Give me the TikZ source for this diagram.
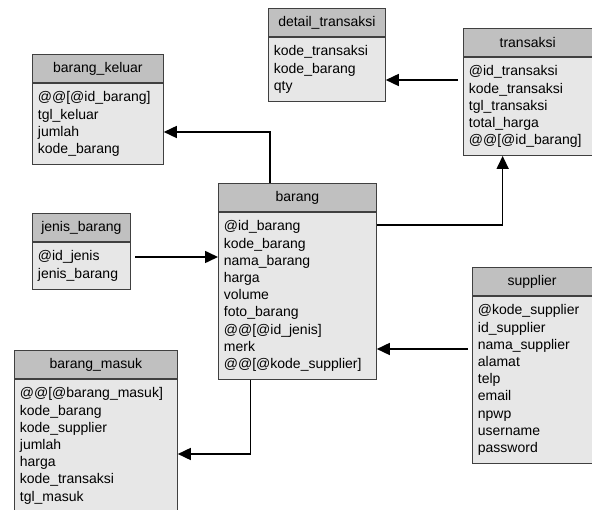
\documentclass[tikz,border=0pt]{standalone}
\usepackage{fontspec}
\setmainfont{Liberation Sans}
\usetikzlibrary{positioning,arrows.meta}
\definecolor{hdrgray}{RGB}{192,192,192}
\definecolor{bodygray}{RGB}{231,231,231}
\definecolor{linegray}{RGB}{64,64,64}

\begin{document}
\begin{tikzpicture}[x=1pt, y=-1pt, >={Triangle[length=13pt,width=12pt]}]
\tikzset{
  tblhead/.style={draw=linegray, fill=hdrgray, line width=0.8pt, inner sep=0pt,
    minimum height=28.5pt, anchor=north west,
    font=\fontsize{14}{17.2}\selectfont},
  tblbody/.style={draw=linegray, fill=bodygray, line width=0.8pt, align=left,
    inner xsep=5.5pt, inner ysep=8pt, anchor=north west,
    font=\fontsize{14}{17.2}\selectfont},
  link/.style={->, line width=1.6pt}
}
\useasboundingbox (0,0) rectangle (592,510);

% -------- tabel barang_keluar ----------
\node (kel-h) [tblhead, minimum width=131pt] at (32,54) {barang\_keluar};
\node (kel-b) [tblbody, text width=120pt] at (kel-h.south west)
  {@@[@id\_barang]\\ tgl\_keluar\\ jumlah\\ kode\_barang};

% -------- tabel detail_transaksi ----------
\node (det-h) [tblhead, minimum width=117pt] at (268,8) {detail\_transaksi};
\node (det-b) [tblbody, text width=106pt] at (det-h.south west)
  {kode\_transaksi\\ kode\_barang\\ qty};

% -------- tabel transaksi ----------
\node (trans-h) [tblhead, minimum width=128.5pt] at (463,28) {transaksi};
\node (trans-b) [tblbody, text width=117.5pt] at (trans-h.south west)
  {@id\_transaksi\\ kode\_transaksi\\ tgl\_transaksi\\ total\_harga\\ @@[@id\_barang]};

% -------- tabel barang ----------
\node (barang-h) [tblhead, minimum width=158pt] at (218,183) {barang};
\node (barang-b) [tblbody, text width=147pt] at (barang-h.south west)
  {@id\_barang\\ kode\_barang\\ nama\_barang\\ harga\\ volume\\ foto\_barang\\
   @@[@id\_jenis]\\ merk\\ @@[@kode\_supplier]};

% -------- tabel jenis_barang ----------
\node (jenis-h) [tblhead, minimum width=98pt] at (32,213) {jenis\_barang};
\node (jenis-b) [tblbody, text width=87pt] at (jenis-h.south west)
  {@id\_jenis\\ jenis\_barang};

% -------- tabel supplier ----------
\node (sup-h) [tblhead, minimum width=119.5pt] at (472,267) {supplier};
\node (sup-b) [tblbody, text width=108.5pt] at (sup-h.south west)
  {@kode\_supplier\\ id\_supplier\\ nama\_supplier\\ alamat\\ telp\\ email\\
   npwp\\ username\\ password};

% -------- tabel barang_masuk ----------
\node (masuk-h) [tblhead, minimum width=163pt] at (14,350) {barang\_masuk};
\node (masuk-b) [tblbody, text width=152pt] at (masuk-h.south west)
  {@@[@barang\_masuk]\\ kode\_barang\\ kode\_supplier\\ jumlah\\ harga\\
   kode\_transaksi\\ tgl\_masuk};

% -------- relasi ----------
\draw[link] ([xshift=52pt]barang-h.north west) |- (kel-b.east |- 0,132);
\coordinate (t-out) at (458,80);
\draw[link] (t-out) -- (t-out -| det-b.east);
\draw[link] (barang-b.east |- 0,225) -| ([xshift=-25pt]trans-b.south);
\coordinate (j-out) at (135,257);
\draw[link] (j-out) -- (j-out -| barang-b.west);
\coordinate (s-out) at (468,349);
\draw[link] (s-out) -- (s-out -| barang-b.east);
\draw[link] ([xshift=-47pt]barang-b.south) |- (masuk-b.east |- 0,454);
\end{tikzpicture}
\end{document}
